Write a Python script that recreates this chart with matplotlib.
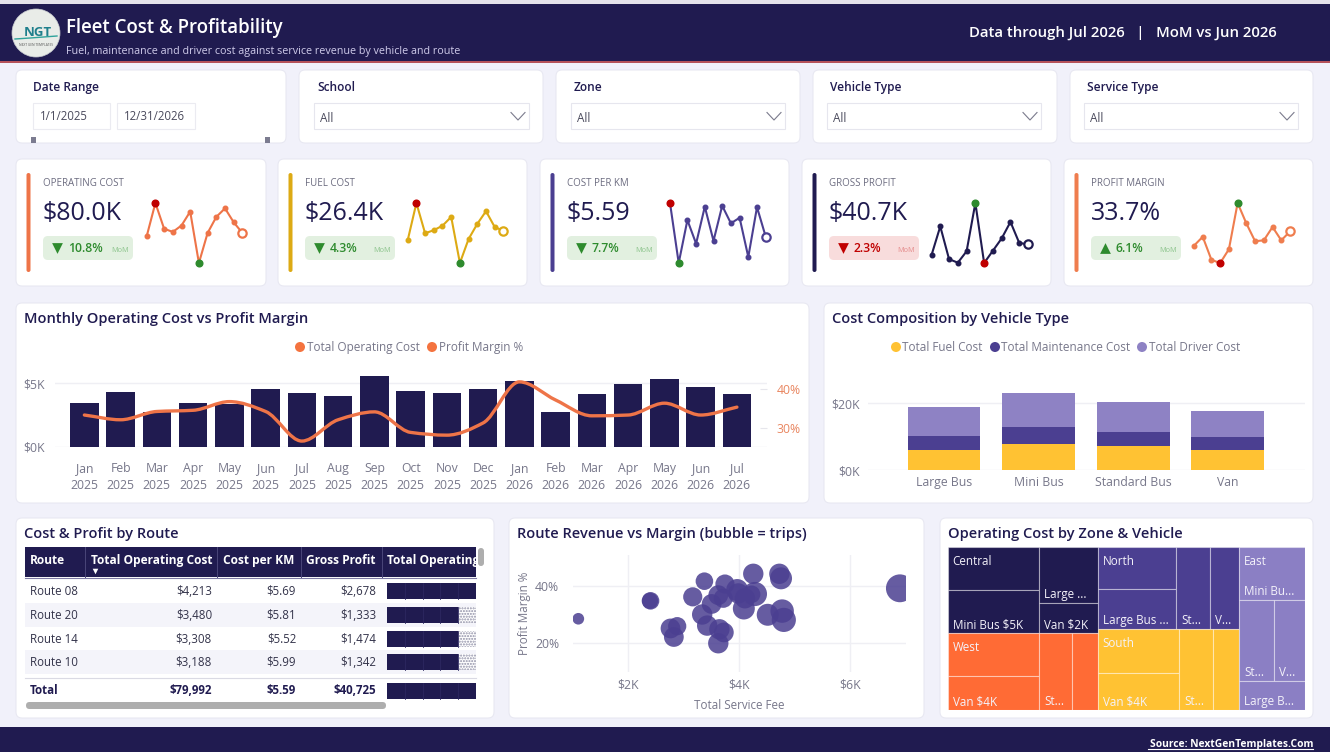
"""Fleet cost and profitability dashboard, drawn on one matplotlib figure."""

import matplotlib

matplotlib.use("Agg")
import matplotlib.pyplot as plt
from matplotlib.patches import Circle, FancyBboxPatch, PathPatch, Rectangle
from matplotlib.path import Path

plt.rcParams["font.family"] = ["Open Sans", "DejaVu Sans"]

W, H = 1330, 752

NAVY = "#201B50"
PURPLE = "#4B3F91"
LAVENDER = "#8B7FC4"
ORANGE = "#F4733F"
YELLOW = "#FFC233"
GOLD = "#DDAA14"
BG = "#F1F1FA"
GREY_TXT = "#77778A"
GRID = "#EFEFF4"
TITLE_SIZE = 10.5

# monthly chart
months = ["Jan\n2025", "Feb\n2025", "Mar\n2025", "Apr\n2025", "May\n2025", "Jun\n2025",
          "Jul\n2025", "Aug\n2025", "Sep\n2025", "Oct\n2025", "Nov\n2025", "Dec\n2025",
          "Jan\n2026", "Feb\n2026", "Mar\n2026", "Apr\n2026", "May\n2026", "Jun\n2026",
          "Jul\n2026"]
monthly_cost = [3.44, 4.3, 2.7, 3.4, 3.35, 4.55, 4.25, 4.0, 5.55, 4.35, 4.2, 4.5,
                5.15, 2.75, 4.15, 4.9, 5.3, 4.65, 4.15]
monthly_margin = [33.4, 32.2, 34.3, 34.6, 36.8, 34.3, 26.8, 32.2, 34.2, 29.0, 28.3, 31.4,
                  41.8, 37.2, 33.2, 33.4, 36.4, 33.4, 35.4]

# cost composition
vehicles = ["Large Bus", "Mini Bus", "Standard Bus", "Van"]
fuel_cost = [6.0, 7.8, 7.2, 6.0]
maint_cost = [4.2, 5.0, 4.2, 3.9]
driver_cost = [8.7, 10.2, 9.0, 7.7]

# KPI cards
kpi_names = ["OPERATING COST", "FUEL COST", "COST PER KM", "GROSS PROFIT", "PROFIT MARGIN"]
kpi_values = ["$80.0K", "$26.4K", "$5.59", "$40.7K", "33.7%"]
kpi_deltas = ["10.8%", "4.3%", "7.7%", "2.3%", "6.1%"]
kpi_down = [True, True, True, True, False]
kpi_good = [True, True, True, False, True]
kpi_colors = ["#EE7448", GOLD, PURPLE, NAVY, "#EF7D4E"]
kpi_max_good = [False, False, False, True, True]
spark_fuel = [1.31, 1.9, 1.42, 1.47, 1.54, 1.68, 0.95, 1.33, 1.57, 1.77, 1.52, 1.46]
spark_km = [6.3, 5.0, 5.93, 5.42, 6.22, 5.48, 6.24, 5.86, 5.98, 5.13, 6.21, 5.57]
spark_profit = [1.26, 2.22, 1.13, 1.01, 1.39, 3.0, 1.0, 1.41, 1.82, 2.37, 1.67, 1.62]

# route table
table_head = ["Route", "Total Operating Cost", "Cost per KM", "Gross Profit"]
routes = ["Route 08", "Route 20", "Route 14", "Route 10"]
route_cost = ["$4,213", "$3,480", "$3,308", "$3,188"]
route_km = ["$5.69", "$5.81", "$5.52", "$5.99"]
route_profit = ["$2,678", "$1,333", "$1,474", "$1,342"]
route_bar = [1.0, 0.8, 0.8, 0.8]
total_row = ["Total", "$79,992", "$5.59", "$40,725"]

# bubbles
bub_fee = [1.10, 2.40, 2.39, 2.76, 2.88, 2.82, 3.16, 3.37, 3.33, 3.42, 3.50, 3.62, 3.74, 3.71,
           3.62, 3.64, 3.72, 3.96, 3.98, 4.08, 4.10, 4.25, 4.28, 4.22, 4.51, 4.72, 4.75, 4.77,
           4.80, 6.89]
bub_margin = [28.4, 34.7, 34.7, 25.0, 25.8, 22.0, 36.1, 41.6, 29.9, 26.0, 33.6, 36.7, 40.6, 35.6,
              19.8, 24.7, 23.6, 38.5, 37.3, 32.0, 35.6, 44.2, 37.1, 37.0, 29.8, 44.2, 42.6, 31.1,
              28.0, 39.1]
bub_trips = [28, 64, 54, 81, 69, 81, 76, 64, 86, 86, 81, 81, 76, 76,
             86, 86, 81, 100, 86, 100, 86, 86, 121, 64, 100, 86, 100, 114,
             121, 161]

# treemap: columns of zones, zones are nested slices (label, value)
tree_zones = [
    [("Central", NAVY, [[("", 5.4), ("Mini Bus $5K", 5.36)], [("Large ...", 4.5), ("Van $2K", 2.5)]]),
     ("West", "#FF6B35", [[("", 5.4), ("Van $4K", 4.3)], [("St...", 3.5)], [("", 2.7)]])],
    [("North", PURPLE, [[("", 4.5), ("Large Bus ...", 4.3)], [("St...", 3.8)], [("V...", 3.3)]]),
     ("South", YELLOW, [[("", 4.9), ("Van $4K", 4.2)], [("St...", 3.8)], [("", 2.9)]])],
    [("East", LAVENDER, [[("Mini Bu...", 4.8)], [("St...", 3.9), ("V...", 3.4)], [("Large B...", 2.7)]])],
]

filter_names = ["School", "Zone", "Vehicle Type", "Service Type"]


def px_axes(fig, x0, y0, x1, y1):
    """Axes placed by pixel box, y measured from the top."""
    ax = fig.add_axes([x0 / W, 1 - y1 / H, (x1 - x0) / W, (y1 - y0) / H])
    ax.patch.set_alpha(0)
    for s in ax.spines.values():
        s.set_visible(False)
    return ax


def card(ax, x0, y0, x1, y1, fc="white", ec="#E8E8F2", r=6, lw=0.8, z=1):
    ax.add_patch(FancyBboxPatch((x0, y0), x1 - x0, y1 - y0, boxstyle=f"round,pad=0,rounding_size={r}",
                                fc=fc, ec=ec, lw=lw, zorder=z))


def smooth_line(xs, ys):
    """Monotone cubic through the points, as a bezier path."""
    n = len(xs)
    slopes = [(ys[i + 1] - ys[i]) / (xs[i + 1] - xs[i]) for i in range(n - 1)]
    tang = [slopes[0]]
    for a, b in zip(slopes[:-1], slopes[1:]):
        tang.append(0.0 if a * b <= 0 else 2 * a * b / (a + b))
    tang.append(slopes[-1])
    verts = [(xs[0], ys[0])]
    codes = [Path.MOVETO]
    for i in range(n - 1):
        dx = xs[i + 1] - xs[i]
        verts += [(xs[i] + dx / 3, ys[i] + tang[i] * dx / 3),
                  (xs[i + 1] - dx / 3, ys[i + 1] - tang[i + 1] * dx / 3),
                  (xs[i + 1], ys[i + 1])]
        codes += [Path.CURVE4] * 3
    return Path(verts, codes)


def draw_chrome(bg):
    bg.add_patch(Rectangle((0, 0), W, 4, fc="#E4E2EA", ec="none"))
    bg.add_patch(Rectangle((0, 4), W, 57, fc=NAVY, ec="none"))
    bg.add_patch(Rectangle((0, 61), W, 1.5, fc="#B5525A", ec="none"))
    bg.add_patch(Rectangle((0, 727), W, 25, fc=NAVY, ec="none"))
    bg.add_patch(Circle((36, 33), 24, fc="#E9ECE8", ec="#C9CCD0", lw=0.5, zorder=2))
    bg.text(37.5, 32, "NGT", color="#1F7F8C", fontsize=9.5, fontweight="bold", ha="center", va="center", zorder=3)
    bg.plot([15, 30, 57], [39, 38, 36], color="#2FA39B", lw=1, zorder=3)
    bg.text(36, 44.5, "NEXT GEN TEMPLATES", color="#555", fontsize=2.3, ha="center", va="center", zorder=3)
    bg.text(66, 33, "Fleet Cost & Profitability", color="white", fontsize=13.4, fontweight="semibold", va="baseline")
    bg.text(66, 54, "Fuel, maintenance and driver cost against service revenue by vehicle and route",
            color="#CFCBEA", fontsize=7.75, va="baseline")
    bg.text(1277, 37, "Data through Jul 2026   |   MoM vs Jun 2026", color="white", fontsize=10.7,
            fontweight="semibold", ha="right", va="baseline")
    bg.text(1313, 747, "Source: NextGenTemplates.Com", color="white", fontsize=7.4, fontweight="bold",
            ha="right", va="baseline")
    bg.plot([1148, 1313], [749, 749], color="white", lw=0.8)


def draw_filters(bg):
    card(bg, 16, 70, 286, 143)
    bg.text(33, 91, "Date Range", color=NAVY, fontsize=8.6, fontweight="semibold", va="baseline")
    for x0, x1, label in [(33, 110, "1/1/2025"), (117, 195, "12/31/2026")]:
        bg.add_patch(Rectangle((x0, 103), x1 - x0, 26, fc="white", ec="#EBEBF1", lw=0.8, zorder=2))
        bg.text(x0 + 7, 120.5, label, color="#4A4A5C", fontsize=8.3, va="baseline", zorder=3)
    for x in (33, 267):
        bg.add_patch(Rectangle((x - 2.5, 137), 5, 6, fc="#7C7C90", ec="none", zorder=3))
    boxes = [(299, 543, 314, 529), (556, 800, 571, 785), (813, 1057, 827, 1041), (1070, 1313, 1084, 1298)]
    for name, (c0, c1, d0, d1) in zip(filter_names, boxes):
        card(bg, c0, 70, c1, 143)
        bg.text(d0 + 3, 91, name, color=NAVY, fontsize=8.6, fontweight="semibold", va="baseline", zorder=3)
        bg.add_patch(Rectangle((d0, 103), d1 - d0, 26, fc="white", ec="#E6E6EE", lw=0.8, zorder=2))
        bg.text(d0 + 6, 121.5, "All", color="#4A4A5C", fontsize=8.5, va="baseline", zorder=3)
        cx = d1 - 11
        bg.plot([cx - 7, cx, cx + 7], [112.5, 120, 112.5], color="#7A7A8C", lw=0.8, zorder=3)


def draw_kpis(fig, bg):
    sparks = [monthly_cost[-12:], spark_fuel, spark_km, spark_profit, monthly_margin[-12:]]
    lefts = [16, 278, 540, 802, 1064]
    spans = [(146.7, 242.4), (407.7, 503.4), (670, 765.7), (931.5, 1028), (1194, 1290)]
    for i, left in enumerate(lefts):
        right = left + 250 if i == 0 else left + 249
        color = kpi_colors[i]
        card(bg, left, 159, right, 286)
        bg.add_patch(FancyBboxPatch((left + 10.5, 173), 4, 99, boxstyle="round,pad=0,rounding_size=2",
                                    fc=color, ec="none", zorder=3))
        tx = left + 27
        bg.text(tx, 186, kpi_names[i], color="#6C6C80", fontsize=7.0, va="baseline", zorder=3)
        bg.text(tx, 220, kpi_values[i], color=NAVY, fontsize=18, va="baseline", zorder=3)
        good = kpi_good[i]
        bg.add_patch(FancyBboxPatch((tx, 236), 90, 24, boxstyle="round,pad=0,rounding_size=5",
                                    fc="#E2F0E0" if good else "#F8DCDC", ec="none", zorder=3))
        dark = "#2E8B2E" if good else "#C00000"
        bg.scatter([tx + 14], [247.5], marker="v" if kpi_down[i] else "^", s=60, color=dark, zorder=4, lw=0)
        bg.text(tx + 25, 252, kpi_deltas[i], color=dark, fontsize=8.8, fontweight="semibold", va="baseline", zorder=4)
        bg.text(tx + 68, 252, "MoM", color="#8CC48C" if good else "#E58C8C", fontsize=5.2, va="baseline", zorder=4)

        x0, x1 = spans[i]
        ax = px_axes(fig, x0, 203, x1, 263)
        ax.axis("off")
        vals = sparks[i]
        xs = list(range(len(vals)))
        ax.plot(xs, vals, color=color, lw=1.5, marker="o", ms=3.3, clip_on=False)
        ax.set_xlim(0, 11)
        ax.set_ylim(min(vals), max(vals))
        hi = vals.index(max(vals))
        lo = vals.index(min(vals))
        ax.plot(hi, vals[hi], "o", ms=4.8, color="#2E8B2E" if kpi_max_good[i] else "#C00000", clip_on=False, zorder=5)
        ax.plot(lo, vals[lo], "o", ms=4.8, color="#C00000" if kpi_max_good[i] else "#2E8B2E", clip_on=False, zorder=5)
        ax.plot(11, vals[-1], "o", ms=6, mfc="white", mec=color, mew=1.6, clip_on=False, zorder=5)


def legend_row(bg, items):
    for dot_x, text_x, color, label in items:
        bg.add_patch(Circle((dot_x, 347), 5, fc=color, ec="none", zorder=3))
        bg.text(text_x, 351, label, color=GREY_TXT, fontsize=8.5, va="baseline", zorder=3)


def draw_monthly(fig, bg):
    card(bg, 16, 303, 809, 503)
    bg.text(24, 323, "Monthly Operating Cost vs Profit Margin", color=NAVY, fontsize=TITLE_SIZE,
            fontweight="semibold", va="baseline", zorder=3)
    legend_row(bg, [(300, 307, ORANGE, "Total Operating Cost"), (432, 439, ORANGE, "Profit Margin %")])

    ax = px_axes(fig, 55, 372, 767, 447)
    xs = list(range(len(months)))
    ax.bar(xs, monthly_cost, width=0.79, color=NAVY, zorder=2)
    ax.set_xlim(-0.81, 18.83)
    ax.set_ylim(0, 5.86)
    ax.set_yticks([0, 5], ["$0K", "$5K"])
    ax.set_xticks(xs, months, linespacing=1.4)
    ax.tick_params(axis="x", length=0, pad=10.7, labelsize=8.8, labelcolor=GREY_TXT)
    ax.tick_params(axis="y", length=0, pad=7, labelsize=8.8, labelcolor=GREY_TXT)
    ax.yaxis.grid(True, color=GRID, lw=1)
    ax.set_axisbelow(True)

    ax2 = ax.twinx()
    ax2.patch.set_alpha(0)
    for s in ax2.spines.values():
        s.set_visible(False)
    ax2.set_ylim(25.3, 44.3)
    ax2.set_yticks([30, 40], ["30%", "40%"])
    ax2.tick_params(axis="y", direction="in", length=5, width=0.8, color="#E6E6EC", pad=7, labelsize=8.8,
                    labelcolor="#E98660")
    ax2.add_patch(PathPatch(smooth_line(xs, monthly_margin), fc="none", ec="#EE7448", lw=2.4, capstyle="round"))


def draw_composition(fig, bg):
    card(bg, 824, 303, 1313, 503)
    bg.text(832, 323, "Cost Composition by Vehicle Type", color=NAVY, fontsize=TITLE_SIZE,
            fontweight="semibold", va="baseline", zorder=3)
    legend_row(bg, [(896, 902, YELLOW, "Total Fuel Cost"), (995, 1001, PURPLE, "Total Maintenance Cost"),
                    (1142, 1149, "#8E82C4", "Total Driver Cost")])
    ax = px_axes(fig, 868, 385, 1305, 470)
    xs = list(range(len(vehicles)))
    bottoms = [f + m for f, m in zip(fuel_cost, maint_cost)]
    ax.bar(xs, fuel_cost, width=0.77, color=YELLOW, zorder=2)
    ax.bar(xs, maint_cost, width=0.77, bottom=fuel_cost, color=PURPLE, zorder=2)
    ax.bar(xs, driver_cost, width=0.77, bottom=bottoms, color="#8E82C4", zorder=2)
    ax.set_xlim(-0.804, 3.815)
    ax.set_ylim(0, 25.4)
    ax.set_yticks([0, 20], ["$0K", "$20K"])
    ax.set_xticks(xs, vehicles)
    ax.tick_params(axis="x", length=0, pad=4.5, labelsize=8.8, labelcolor=GREY_TXT)
    ax.tick_params(axis="y", length=0, pad=6, labelsize=8.8, labelcolor=GREY_TXT)
    ax.yaxis.grid(True, color=GRID, lw=1)
    ax.set_axisbelow(True)


def data_bar(bg, y, frac):
    """Table data bar: solid part with faint segment lines, dotted remainder."""
    bg.add_patch(Rectangle((387, y - 8), 89, 16, fc="white", ec="#8F8FA6", hatch="......", lw=0, zorder=3))
    bg.add_patch(Rectangle((387, y - 8), 89 * frac, 16, fc=NAVY, ec="none", zorder=4))
    for sx in (405, 423, 440, 458):
        if sx < 387 + 89 * frac:
            bg.plot([sx, sx], [y - 8, y + 8], color="#2C2760", lw=0.6, zorder=5)


def draw_table(bg):
    card(bg, 16, 518, 494, 718)
    bg.text(24, 538, "Cost & Profit by Route", color=NAVY, fontsize=TITLE_SIZE, fontweight="semibold", va="baseline", zorder=3)
    bg.add_patch(Rectangle((25, 547), 451, 30, fc=NAVY, ec="none", zorder=2))
    bg.plot([25, 476], [577.5, 577.5], color="#7E7AA4", lw=0.8, zorder=3)
    for x in (85, 217, 301, 382):
        bg.plot([x, x], [547, 577], color="#4A4679", lw=0.7, zorder=3)
    head_x = [30, 91, 223, 306]
    for x, label in zip(head_x, table_head):
        bg.text(x, 564, label, color="white", fontsize=8.55, fontweight="bold", va="baseline", zorder=3)
    # last header runs past the table edge and gets cut off there
    t = bg.text(387, 564, "Total Operating Cost", color="white", fontsize=8.55, fontweight="bold", va="baseline",
                zorder=3, clip_on=True)
    t.set_clip_path(Rectangle((382, 547), 94, 30, transform=bg.transData))
    bg.scatter([95], [571], marker="v", s=16, color="white", lw=0, zorder=4)

    row_y = [590.7, 614.7, 638.7, 661.7]
    for i, y in enumerate(row_y):
        if i % 2:
            bg.add_patch(Rectangle((25, y - 12), 451, 24, fc="#F4F4FA", ec="none", zorder=2))
        bg.text(30, y + 4, routes[i], color="#33334A", fontsize=8.3, va="baseline", zorder=3)
        for x, val in zip((212, 296, 376), (route_cost[i], route_km[i], route_profit[i])):
            bg.text(x, y + 4, val, color="#33334A", fontsize=8.3, ha="right", va="baseline", zorder=3)
        data_bar(bg, y, route_bar[i])
    bg.plot([25, 476], [677.5, 677.5], color="#DADAE4", lw=0.8, zorder=3)
    bg.text(30, 694, total_row[0], color=NAVY, fontsize=8.3, fontweight="bold", va="baseline", zorder=3)
    for x, val in zip((212, 296, 376), total_row[1:]):
        bg.text(x, 694, val, color=NAVY, fontsize=8.3, fontweight="bold", ha="right", va="baseline", zorder=3)
    data_bar(bg, 691, 1.0)
    card(bg, 26, 702, 386, 709, fc="#AEAEAE", ec="none", r=3.5, z=3)
    card(bg, 478, 548, 484, 566, fc="#AEAEAE", ec="none", r=3, z=4)


def draw_scatter(fig, bg):
    card(bg, 509, 518, 924, 718)
    bg.text(517, 538, "Route Revenue vs Margin (bubble = trips)", color=NAVY, fontsize=TITLE_SIZE,
            fontweight="semibold", va="baseline", zorder=3)
    ax = px_axes(fig, 573, 555, 906, 672)
    ax.scatter(bub_fee, bub_margin, s=[t * 2.5 for t in bub_trips], color=PURPLE, alpha=0.85, lw=0, zorder=3)
    ax.set_xlim(1.004, 7.0)
    ax.set_ylim(9.7, 50.8)
    ax.set_xticks([2, 4, 6], ["$2K", "$4K", "$6K"])
    ax.set_yticks([20, 40], ["20%", "40%"])
    ax.tick_params(length=0, labelsize=8.8, labelcolor=GREY_TXT)
    ax.tick_params(axis="x", pad=5)
    ax.tick_params(axis="y", pad=10)
    ax.grid(True, color=GRID, lw=1)
    ax.set_axisbelow(True)
    ax.set_xlabel("Total Service Fee", color=GREY_TXT, fontsize=8.4, labelpad=5)
    ax.set_ylabel("Profit Margin %", color=GREY_TXT, fontsize=8.4, labelpad=3)


def node_total(node):
    return node[1] if isinstance(node, tuple) else sum(node_total(n) for n in node)


def slice_cells(node, x0, y0, x1, y1, across, out):
    """Split a box among the children in proportion to value, flipping direction per level."""
    if isinstance(node, tuple):
        out.append((node[0], x0, y0, x1, y1))
        return
    total = node_total(node)
    pos = x0 if across else y0
    for child in node:
        size = node_total(child) / total * ((x1 - x0) if across else (y1 - y0))
        if across:
            slice_cells(child, pos, y0, pos + size, y1, False, out)
        else:
            slice_cells(child, x0, pos, x1, pos + size, True, out)
        pos += size


def draw_treemap(fig, bg):
    card(bg, 940, 518, 1313, 718)
    bg.text(948, 538, "Operating Cost by Zone & Vehicle", color=NAVY, fontsize=TITLE_SIZE, fontweight="semibold",
            va="baseline", zorder=3)
    ax = px_axes(fig, 947.7, 547.3, 1305, 710.3)
    ax.axis("off")
    ax.set_xlim(947.7, 1305)
    ax.set_ylim(710.3, 547.3)
    col_totals = [sum(node_total(z[2]) for z in col) for col in tree_zones]
    grand = sum(col_totals)
    cx = 947.7
    for col, ct in zip(tree_zones, col_totals):
        cw = ct / grand * (1305 - 947.7)
        cy = 547.3
        for name, color, cells in col:
            zh = node_total(cells) / ct * 163
            out = []
            # East is cut into rows first, the others into columns
            slice_cells(cells, cx, cy, cx + cw, cy + zh, name != "East", out)
            for label, x0, y0, x1, y1 in out:
                ax.add_patch(Rectangle((x0, y0), x1 - x0, y1 - y0, fc=color, ec=(1, 1, 1, 0.4), lw=0.8))
                if label:
                    ax.text(x0 + 5, y1 - 5, label, color="#F4F2FA", fontsize=8.4, va="baseline")
            ax.text(cx + 5, cy + 18, name, color="#F4F2FA", fontsize=8.4, va="baseline")
            cy += zh
        cx += cw


def main():
    fig = plt.figure(figsize=(W / 100, H / 100), dpi=100, facecolor=BG)
    bg = fig.add_axes([0, 0, 1, 1])
    bg.set_xlim(0, W)
    bg.set_ylim(H, 0)
    bg.axis("off")

    draw_chrome(bg)
    draw_filters(bg)
    draw_kpis(fig, bg)
    draw_monthly(fig, bg)
    draw_composition(fig, bg)
    draw_table(bg)
    draw_scatter(fig, bg)
    draw_treemap(fig, bg)

    bg.set_xlim(0, W)
    bg.set_ylim(H, 0)
    fig.savefig("out.png", dpi=100, facecolor=BG)


if __name__ == "__main__":
    main()
